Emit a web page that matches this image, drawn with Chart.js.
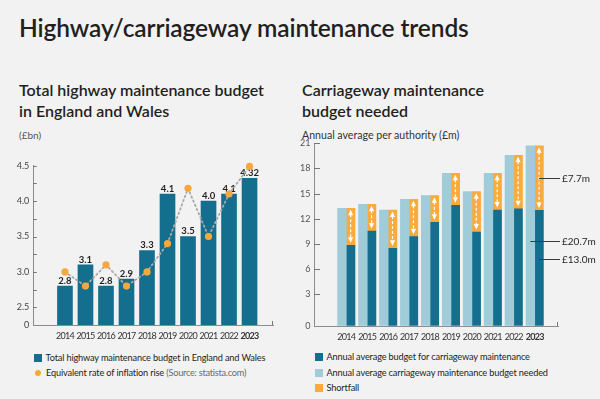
<!DOCTYPE html>
<html>
<head>
<meta charset="utf-8">
<script src="https://cdn.jsdelivr.net/npm/chart.js@4.4.0/dist/chart.umd.min.js"></script>
<style>
  html, body { margin: 0; padding: 0; }
  body { width: 600px; height: 399px; background: #f2f2f2; position: relative; overflow: hidden; font-family: Lato, "Open Sans", sans-serif; color: #231f20; }
  .abs { position: absolute; white-space: nowrap; }
  #title { left: 19px; top: 13px; font-size: 24.5px; line-height: 30px; font-weight: 600; letter-spacing: -0.1px; }
  .sub { font-size: 16px; line-height: 20.5px; font-weight: 600; top: 80px; }
  .note { font-size: 10px; line-height: 12px; top: 129px; }
  .leg { font-size: 9.2px; line-height: 14px; color: #231f20; letter-spacing: -0.15px; }
  .leg .sw { display: inline-block; width: 7.5px; height: 7.5px; margin-right: 4px; vertical-align: -0.5px; }
  .leg .dot { display: inline-block; width: 6.5px; height: 6.5px; border-radius: 50%; margin-right: 5px; margin-left: 0.5px; vertical-align: 0px; background: #f6a83c; }
  canvas { position: absolute; }
</style>
</head>
<body>
<div id="title" class="abs">Highway/carriageway maintenance trends</div>

<div class="abs sub" style="left:19px">Total highway maintenance budget<br>in England and Wales</div>
<div class="abs note" style="left:19px;color:#555">(£bn)</div>

<div class="abs sub" style="left:302px">Carriageway maintenance<br>budget needed</div>
<div class="abs note" style="left:302px;color:#333;font-size:10.6px">Annual average per authority (£m)</div>

<canvas id="leftChart" width="290" height="195" style="left:0;top:150px"></canvas>
<canvas id="rightChart" width="310" height="215" style="left:290px;top:130px"></canvas>

<div class="abs leg" style="left:34px;top:351px"><span class="sw" style="background:#136f8d"></span>Total highway maintenance budget in England and Wales</div>
<div class="abs leg" style="left:34px;top:366px"><span class="dot"></span>Equivalent rate of inflation rise <span style="color:#6b6b6b;letter-spacing:-0.25px">(Source: statista.com)</span></div>

<div class="abs leg" style="left:315px;top:350px"><span class="sw" style="background:#136f8d"></span>Annual average budget for carriageway maintenance</div>
<div class="abs leg" style="left:315px;top:366px"><span class="sw" style="background:#a0cbd9"></span>Annual average carriageway maintenance budget needed</div>
<div class="abs leg" style="left:315px;top:381px"><span class="sw" style="background:#fbab3d"></span>Shortfall</div>

<script>
// shared categories
const years = [2014, 2015, 2016, 2017, 2018, 2019, 2020, 2021, 2022, 2023];

// left chart: total highway maintenance budget (£bn) + inflation equivalent
const totalBudget = [2.8, 3.1, 2.8, 2.9, 3.3, 4.1, 3.5, 4.0, 4.1, 4.32];
const inflationRise = [3.0, 2.8, 3.1, 2.8, 3.0, 3.4, 4.18, 3.5, 4.1, 4.49];
const leftTickValues = [2.25, 2.5, 2.75, 3.0, 3.25, 3.5, 3.75, 4.0, 4.25, 4.5];
const leftTickLabels = ['0', '2.5', '', '3.0', '', '3.5', '', '4.0', '', '4.5'];

// right chart: carriageway budget per authority (£m)
const budgetNeeded = [13.25, 13.73, 13.05, 14.33, 14.76, 17.42, 15.23, 17.42, 19.57, 20.7];
const budgetActual = [8.84, 10.55, 8.48, 9.87, 11.58, 13.61, 10.43, 13.05, 13.2, 13.0];
const rightTickValues = [-0.78, 3, 6, 9, 12, 15, 18, 21];
const rightTickLabels = ['0', '3', '6', '9', '12', '15', '18', '21'];

const TEAL = '#136f8d';
const LIGHT = '#a0cbd9';
const ORANGE = '#fbab3d';
const AXIS = '#8c8c8c';
const FONT = 'Lato, "Open Sans", sans-serif';

Chart.defaults.font.family = FONT;
Chart.defaults.animation = false;

function fmt(v) {
  return Math.abs(Math.round(v * 10) - v * 10) < 1e-9 ? v.toFixed(1) : v.toFixed(2);
}

// inward tick marks on the y axis + small end mark on the x axis
function axisMarks(tickLen) {
  return {
    id: 'axisMarks',
    afterDraw(chart) {
      const {ctx, chartArea, scales} = chart;
      ctx.save();
      ctx.strokeStyle = '#777';
      ctx.lineWidth = 1;
      ctx.beginPath();
      scales.y.ticks.forEach(t => {
        const py = Math.round(scales.y.getPixelForValue(t.value)) + 0.5;
        if (py < chartArea.bottom - 2) {
          ctx.moveTo(chartArea.left, py);
          ctx.lineTo(chartArea.left + tickLen, py);
        }
      });
      const rx = Math.round(chartArea.right) - 0.5;
      ctx.moveTo(rx, chartArea.bottom);
      ctx.lineTo(rx, chartArea.bottom - 4);
      ctx.stroke();
      ctx.restore();
    }
  };
}

// year labels are drawn on a top layer (z: 1) with tighter letter spacing
const tightYears = {
  id: 'tightYears',
  beforeDraw(chart) { chart.ctx.letterSpacing = '0px'; },
  afterDatasetsDraw(chart) { chart.ctx.letterSpacing = '-0.7px'; },
  afterDraw(chart) { chart.ctx.letterSpacing = '0px'; }
};

const xTicks = {
  z: 1,
  padding: 6,
  color: '#333',
  maxRotation: 0,
  autoSkip: false,
  font: c => ({size: 9, weight: c.tick && c.tick.value === 2023 ? 'bold' : 'normal'}),
  callback: v => String(v)
};

const barLabels = {
  id: 'barLabels',
  afterDatasetDraw(chart, args) {
    if (args.index !== 1) return;
    const {ctx} = chart;
    ctx.save();
    ctx.font = 'bold 9.5px ' + FONT;
    ctx.fillStyle = '#231f20';
    ctx.textAlign = 'center';
    ctx.textBaseline = 'bottom';
    args.meta.data.forEach((el, i) => {
      ctx.fillText(fmt(totalBudget[i]), el.x, el.y - 0.5);
    });
    ctx.restore();
  }
};

new Chart(document.getElementById('leftChart'), {
  data: {
    datasets: [{
      type: 'line',
      order: 0,
      data: years.map((y, i) => ({x: y, y: inflationRise[i]})),
      borderColor: '#a9a9a9',
      borderWidth: 1.8,
      borderDash: [1.5, 3],
      borderCapStyle: 'round',
      pointRadius: 3.6,
      pointBackgroundColor: '#f6a83c',
      pointBorderWidth: 0,
      clip: false
    }, {
      type: 'bar',
      order: 1,
      data: years.map((y, i) => ({x: y, y: totalBudget[i]})),
      backgroundColor: TEAL,
      barThickness: 15
    }]
  },
  options: {
    responsive: false,
    layout: {padding: {top: 15.7, right: 17, left: 0, bottom: 0}},
    plugins: {legend: {display: false}, tooltip: {enabled: false}},
    scales: {
      x: {
        type: 'linear',
        min: 2013.04, max: 2023.56,
        afterBuildTicks: s => { s.ticks = years.map(v => ({value: v})); },
        afterFit: s => { s.height = 20; },
        grid: {display: true, drawOnChartArea: false, drawTicks: false},
        border: {color: AXIS, width: 1},
        ticks: xTicks
      },
      y: {
        min: 2.25, max: 4.5,
        afterBuildTicks: s => { s.ticks = leftTickValues.map(v => ({value: v})); },
        afterFit: s => { s.width = 33.3; },
        grid: {display: true, drawOnChartArea: false, drawTicks: false},
        border: {color: AXIS, width: 1},
        ticks: {
          padding: 4,
          color: '#444',
          font: {size: 9},
          autoSkip: false,
          callback: v => leftTickLabels[leftTickValues.indexOf(v)] ?? ''
        }
      }
    }
  },
  plugins: [barLabels, axisMarks(3.5), tightYears]
});

const gapArrows = {
  id: 'gapArrows',
  afterDatasetsDraw(chart) {
    const {ctx, scales} = chart;
    const meta = chart.getDatasetMeta(2);
    ctx.save();
    ctx.strokeStyle = '#fff';
    ctx.fillStyle = '#fff';
    ctx.lineWidth = 1.2;
    meta.data.forEach(el => {
      const top = Math.min(el.y, el.base), bot = Math.max(el.y, el.base);
      const x = el.x;
      ctx.setLineDash([3, 2]);
      ctx.beginPath();
      ctx.moveTo(x, top + 6);
      ctx.lineTo(x, bot - 6);
      ctx.stroke();
      ctx.setLineDash([]);
      ctx.beginPath();
      ctx.moveTo(x, top + 1.5);
      ctx.lineTo(x - 2.6, top + 7);
      ctx.lineTo(x + 2.6, top + 7);
      ctx.closePath();
      ctx.moveTo(x, bot - 2.5);
      ctx.lineTo(x - 2.6, bot - 8);
      ctx.lineTo(x + 2.6, bot - 8);
      ctx.closePath();
      ctx.fill();
    });

    // 2023 call-outs
    const last = years.length - 1;
    const gapEl = meta.data[last];
    const needEl = chart.getDatasetMeta(0).data[last];
    const budEl = chart.getDatasetMeta(1).data[last];
    const tx = chart.chartArea.right + 2;
    const notes = [
      {x0: gapEl.x, y: (gapEl.y + gapEl.base) / 2, text: '£' + (budgetNeeded[last] - budgetActual[last]).toFixed(1) + 'm'},
      {x0: needEl.x, y: scales.y.getPixelForValue(9.3), text: '£' + budgetNeeded[last].toFixed(1) + 'm'},
      {x0: budEl.x, y: scales.y.getPixelForValue(7.2), text: '£' + budgetActual[last].toFixed(1) + 'm'}
    ];
    ctx.font = '10px ' + FONT;
    ctx.fillStyle = '#231f20';
    ctx.textBaseline = 'middle';
    ctx.strokeStyle = '#3a3a3a';
    ctx.lineWidth = 1;
    notes.forEach(n => {
      const py = Math.round(n.y) + 0.5;
      ctx.beginPath();
      ctx.moveTo(n.x0, py);
      ctx.lineTo(tx, py);
      ctx.stroke();
      ctx.fillText(n.text, tx + 2, py);
    });
    ctx.restore();
  }
};

new Chart(document.getElementById('rightChart'), {
  type: 'bar',
  data: {
    datasets: [{
      data: years.map((y, i) => ({x: y, y: budgetNeeded[i]})),
      backgroundColor: LIGHT,
      stack: 'need',
      base: -0.78
    }, {
      data: years.map((y, i) => ({x: y, y: budgetActual[i]})),
      backgroundColor: TEAL,
      stack: 'gap',
      base: -0.78
    }, {
      data: years.map((y, i) => ({x: y, y: [budgetActual[i], budgetNeeded[i]]})),
      backgroundColor: ORANGE,
      stack: 'gap'
    }]
  },
  options: {
    responsive: false,
    barThickness: 8.7,
    layout: {padding: {top: 13.3, right: 42, left: 0, bottom: 0}},
    plugins: {legend: {display: false}, tooltip: {enabled: false}},
    scales: {
      x: {
        type: 'linear',
        stacked: true,
        min: 2013.04, max: 2023.53,
        afterBuildTicks: s => { s.ticks = years.map(v => ({value: v})); },
        afterFit: s => { s.height = 19; },
        grid: {display: true, drawOnChartArea: false, drawTicks: false},
        border: {color: AXIS, width: 1},
        ticks: xTicks
      },
      y: {
        stacked: false,
        min: -0.78, max: 21,
        afterBuildTicks: s => { s.ticks = rightTickValues.map(v => ({value: v})); },
        afterFit: s => { s.width = 24; },
        grid: {display: true, drawOnChartArea: false, drawTicks: false},
        border: {color: AXIS, width: 1},
        ticks: {
          padding: 3.5,
          color: '#555',
          font: {size: 9},
          autoSkip: false,
          callback: v => rightTickLabels[rightTickValues.indexOf(v)] ?? ''
        }
      }
    }
  },
  plugins: [gapArrows, axisMarks(6), tightYears]
});
</script>
</body>
</html>
